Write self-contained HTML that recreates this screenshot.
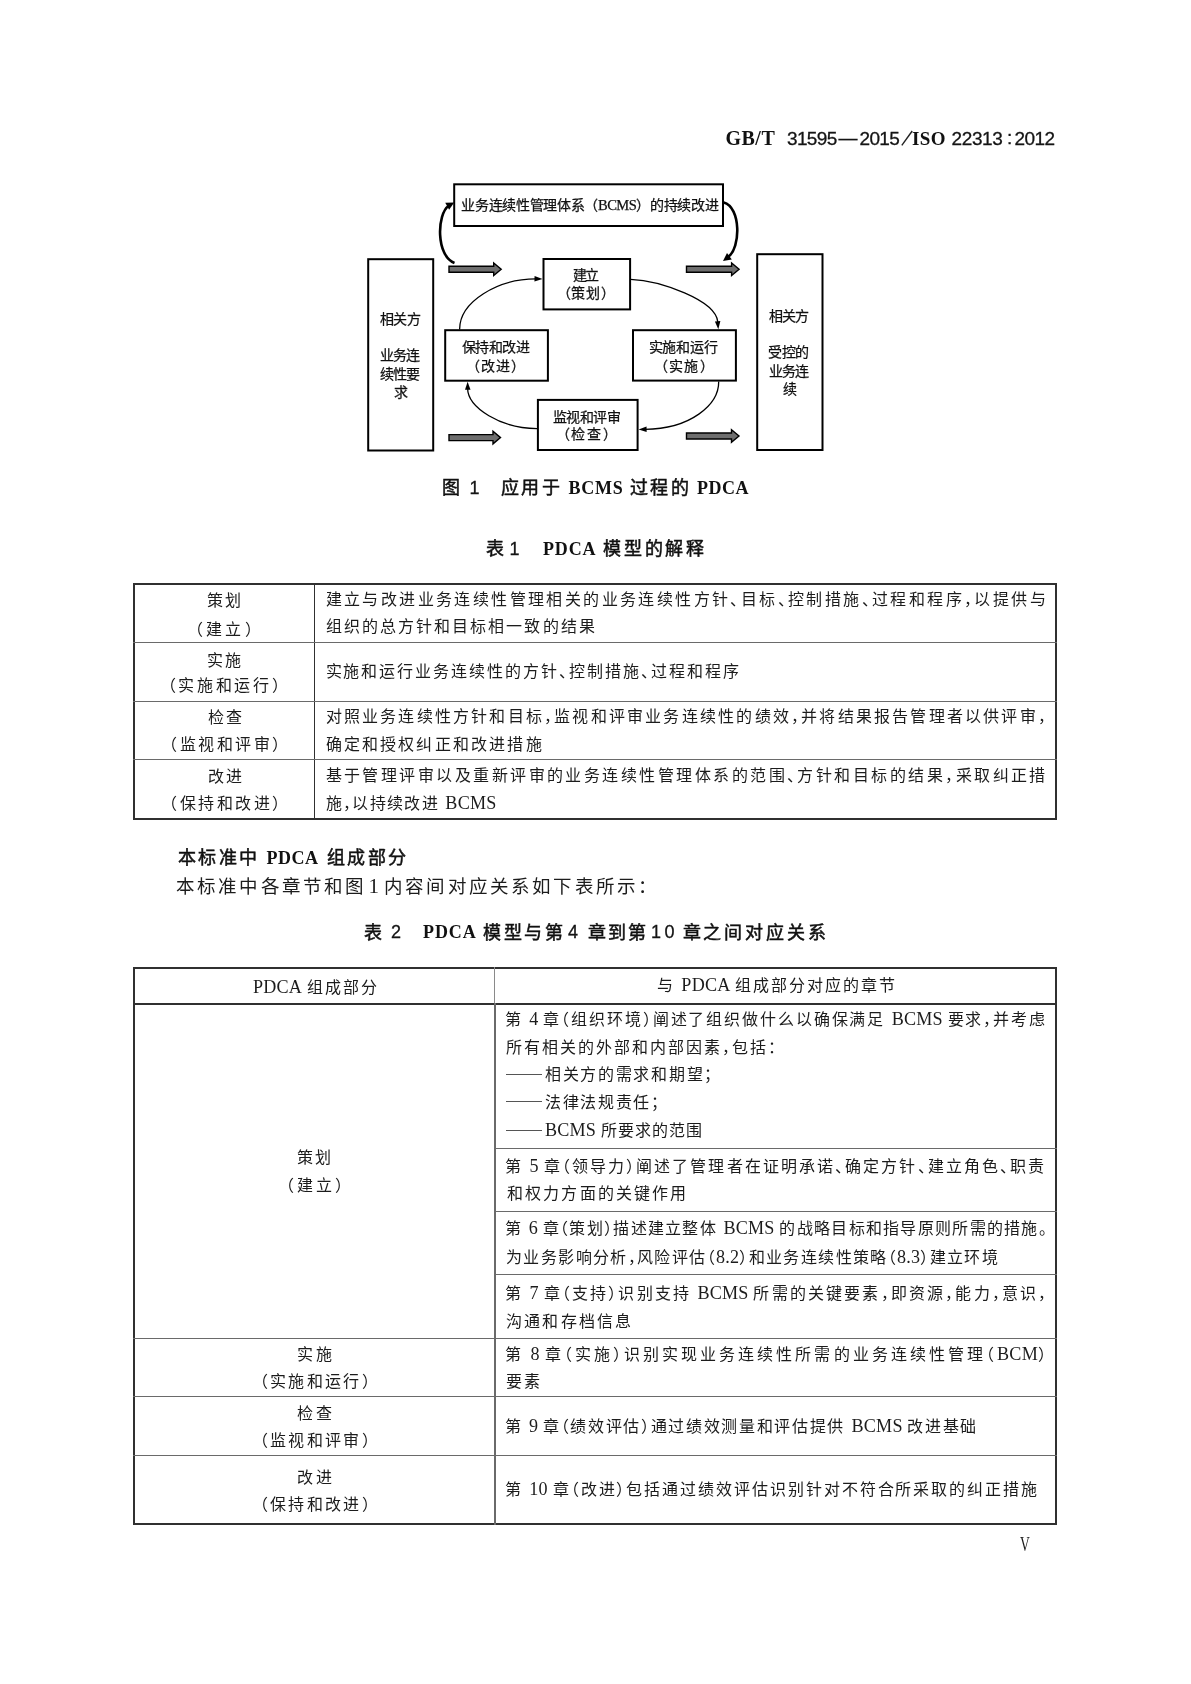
<!DOCTYPE html><html lang="zh-CN"><head><meta charset="utf-8"><style>html,body{margin:0;padding:0;background:#fff;}#pg{position:relative;width:1191px;height:1684px;overflow:hidden;background:#fff;}.t{position:absolute;white-space:nowrap;line-height:20px;}#pg{filter:grayscale(1);}</style></head><body><div id="pg">
<svg style="position:absolute;left:0;top:0" width="1191" height="160"><line x1="901.8" y1="145.3" x2="912.2" y2="131" stroke="#222" stroke-width="1.4"/></svg>
<svg style="position:absolute;left:0;top:0" width="1191" height="470" viewBox="0 0 1191 470"><rect x="454.20" y="184.30" width="268.80" height="41.70" fill="none" stroke="#000" stroke-width="2.0"/><rect x="543.50" y="259.00" width="86.60" height="50.40" fill="none" stroke="#000" stroke-width="2.0"/><rect x="445.20" y="330.20" width="102.70" height="50.50" fill="none" stroke="#000" stroke-width="2.0"/><rect x="633.00" y="330.20" width="102.90" height="50.40" fill="none" stroke="#000" stroke-width="2.0"/><rect x="537.90" y="399.90" width="99.70" height="50.10" fill="none" stroke="#000" stroke-width="2.0"/><rect x="368.20" y="259.20" width="65.00" height="191.30" fill="none" stroke="#000" stroke-width="2.0"/><rect x="757.20" y="254.20" width="65.30" height="195.80" fill="none" stroke="#000" stroke-width="2.0"/><path d="M449.0,266.3 L493.7,266.3 L493.7,263.0 L501.2,269.3 L493.7,275.6 L493.7,272.3 L449.0,272.3 z" fill="#6e6e6e" stroke="#000" stroke-width="1.4" stroke-linejoin="miter"/><path d="M686.5,266.3 L731.6,266.3 L731.6,263.0 L739.1,269.3 L731.6,275.6 L731.6,272.3 L686.5,272.3 z" fill="#6e6e6e" stroke="#000" stroke-width="1.4" stroke-linejoin="miter"/><path d="M449.0,434.6 L493.0,434.6 L493.0,431.3 L500.5,437.6 L493.0,443.9 L493.0,440.6 L449.0,440.6 z" fill="#6e6e6e" stroke="#000" stroke-width="1.4" stroke-linejoin="miter"/><path d="M686.5,433.0 L731.5,433.0 L731.5,429.7 L739.0,436.0 L731.5,442.3 L731.5,439.0 L686.5,439.0 z" fill="#6e6e6e" stroke="#000" stroke-width="1.4" stroke-linejoin="miter"/><path d="M459.6,329.4 C459.6,301.5 497.7,278.9 536,278.9" fill="none" stroke="#000" stroke-width="1.3"/><path d="M542.50,279.00 L534.45,281.59 L534.56,276.09 z" fill="#000"/><path d="M630.5,279.3 C660,280.5 716,300 717.8,322" fill="none" stroke="#000" stroke-width="1.3"/><path d="M718.30,329.20 L714.92,321.44 L720.40,321.01 z" fill="#000"/><path d="M718.7,381.5 C719,405 690,429 645,429.3" fill="none" stroke="#000" stroke-width="1.3"/><path d="M638.60,429.40 L646.54,426.49 L646.65,431.99 z" fill="#000"/><path d="M537,428.6 C501.2,428.6 467.6,407.8 467.6,388" fill="none" stroke="#000" stroke-width="1.3"/><path d="M467.60,381.70 L470.51,389.64 L465.01,389.75 z" fill="#000"/><path d="M454.5,263 C436,256 436.5,214 449,205.5" fill="none" stroke="#000" stroke-width="2.6"/><path d="M454.20,202.50 L449.12,209.86 L445.26,202.85 z" fill="#000"/><path d="M723.7,202.5 C741,207 741,248 728,257" fill="none" stroke="#000" stroke-width="2.6"/><path d="M723.00,261.00 L727.00,253.00 L731.80,259.40 z" fill="#000"/></svg>
<div style="position:absolute;left:133px;top:583px;width:924px;height:2px;background:#303030"></div>
<div style="position:absolute;left:133px;top:817.5px;width:924px;height:2px;background:#303030"></div>
<div style="position:absolute;left:133px;top:583px;width:2px;height:236.5px;background:#303030"></div>
<div style="position:absolute;left:1055px;top:583px;width:2px;height:236.5px;background:#303030"></div>
<div style="position:absolute;left:313.8px;top:583px;width:1.5px;height:236.5px;background:#303030"></div>
<div style="position:absolute;left:133px;top:641.8px;width:924px;height:1.2px;background:#6a6a6a"></div>
<div style="position:absolute;left:133px;top:700.8px;width:924px;height:1.2px;background:#6a6a6a"></div>
<div style="position:absolute;left:133px;top:759px;width:924px;height:1.2px;background:#6a6a6a"></div>
<div style="position:absolute;left:133px;top:967.3px;width:924px;height:2px;background:#303030"></div>
<div style="position:absolute;left:133px;top:1523.1px;width:924px;height:1.8px;background:#303030"></div>
<div style="position:absolute;left:133px;top:967.3px;width:2px;height:557.5px;background:#303030"></div>
<div style="position:absolute;left:1055px;top:967.3px;width:2px;height:557.5px;background:#303030"></div>
<div style="position:absolute;left:133px;top:1003px;width:924px;height:2px;background:#303030"></div>
<div style="position:absolute;left:494.2px;top:967.3px;width:1.3px;height:35.700000000000045px;background:#8a8a8a"></div>
<div style="position:absolute;left:494.2px;top:1003px;width:1.5px;height:521.8px;background:#6a6a6a"></div>
<div style="position:absolute;left:494.2px;top:1148px;width:562.8px;height:1.2px;background:#6a6a6a"></div>
<div style="position:absolute;left:494.2px;top:1211px;width:562.8px;height:1.2px;background:#6a6a6a"></div>
<div style="position:absolute;left:494.2px;top:1274.3px;width:562.8px;height:1.2px;background:#6a6a6a"></div>
<div style="position:absolute;left:133px;top:1337.8px;width:924px;height:1.2px;background:#6a6a6a"></div>
<div style="position:absolute;left:133px;top:1396px;width:924px;height:1.2px;background:#6a6a6a"></div>
<div style="position:absolute;left:133px;top:1455px;width:924px;height:1.2px;background:#6a6a6a"></div>
<div class="t" style="left:725.50px;top:128.00px;font-size:20px;letter-spacing:0.480px;font-family:'Liberation Serif', serif;font-weight:bold;color:#111;">GB/T</div>
<div class="t" style="left:787.00px;top:129.00px;font-size:19px;letter-spacing:-0.630px;font-family:'Liberation Sans', sans-serif;color:#141414;-webkit-text-stroke:0.3px #141414;">31595</div>
<div class="t" style="left:838.50px;top:128.20px;font-size:19px;letter-spacing:0.000px;font-family:'Liberation Sans', sans-serif;color:#141414;-webkit-text-stroke:0.3px #141414;">—</div>
<div class="t" style="left:859.50px;top:129.00px;font-size:19px;letter-spacing:-0.660px;font-family:'Liberation Sans', sans-serif;color:#141414;-webkit-text-stroke:0.3px #141414;">2015</div>
<div class="t" style="left:912.00px;top:129.00px;font-size:19px;letter-spacing:0.360px;font-family:'Liberation Serif', serif;font-weight:bold;color:#111;">ISO</div>
<div class="t" style="left:951.50px;top:129.00px;font-size:19px;letter-spacing:-0.360px;font-family:'Liberation Sans', sans-serif;color:#141414;-webkit-text-stroke:0.3px #141414;">22313</div>
<div class="t" style="left:1007.00px;top:128.20px;font-size:19px;letter-spacing:0.000px;font-family:'Liberation Sans', sans-serif;color:#141414;-webkit-text-stroke:0.3px #141414;">:</div>
<div class="t" style="left:1014.50px;top:129.00px;font-size:19px;letter-spacing:-0.540px;font-family:'Liberation Sans', sans-serif;color:#141414;-webkit-text-stroke:0.3px #141414;">2012</div>
<div class="t" style="left:461.30px;top:195.00px;font-size:14px;letter-spacing:-0.320px;font-family:'Liberation Serif', serif;color:#111;-webkit-text-stroke:0.25px #111;">业务连续性管理体系（<span style="font-size:14.56px;letter-spacing:-0.6px">BCMS</span>）的持续改进</div>
<div class="t" style="left:573.00px;top:266.00px;font-size:14px;letter-spacing:-1.700px;font-family:'Liberation Serif', serif;color:#111;-webkit-text-stroke:0.25px #111;">建立</div>
<div class="t" style="left:563.50px;top:284.00px;font-size:14px;letter-spacing:0.820px;font-family:'Liberation Serif', serif;color:#111;-webkit-text-stroke:0.25px #111;"><span style="margin-left:-7.00px">（</span>策划<span style="letter-spacing:-6.18px">）</span></div>
<div class="t" style="left:462.00px;top:337.50px;font-size:14px;letter-spacing:-0.530px;font-family:'Liberation Serif', serif;color:#111;-webkit-text-stroke:0.25px #111;">保持和改进</div>
<div class="t" style="left:472.50px;top:357.00px;font-size:14px;letter-spacing:1.240px;font-family:'Liberation Serif', serif;color:#111;-webkit-text-stroke:0.25px #111;"><span style="margin-left:-7.00px">（</span>改进<span style="letter-spacing:-5.76px">）</span></div>
<div class="t" style="left:648.50px;top:337.50px;font-size:14px;letter-spacing:-0.080px;font-family:'Liberation Serif', serif;color:#111;-webkit-text-stroke:0.25px #111;">实施和运行</div>
<div class="t" style="left:661.00px;top:357.00px;font-size:14px;letter-spacing:1.240px;font-family:'Liberation Serif', serif;color:#111;-webkit-text-stroke:0.25px #111;"><span style="margin-left:-7.00px">（</span>实施<span style="letter-spacing:-5.76px">）</span></div>
<div class="t" style="left:553.00px;top:407.50px;font-size:14px;letter-spacing:-0.530px;font-family:'Liberation Serif', serif;color:#111;-webkit-text-stroke:0.25px #111;">监视和评审</div>
<div class="t" style="left:562.50px;top:425.00px;font-size:14px;letter-spacing:1.960px;font-family:'Liberation Serif', serif;color:#111;-webkit-text-stroke:0.25px #111;"><span style="margin-left:-7.00px">（</span>检查<span style="letter-spacing:-5.04px">）</span></div>
<div class="t" style="left:379.50px;top:309.50px;font-size:14px;letter-spacing:-0.350px;font-family:'Liberation Serif', serif;color:#111;-webkit-text-stroke:0.25px #111;">相关方</div>
<div class="t" style="left:379.50px;top:346.00px;font-size:14px;letter-spacing:-0.800px;font-family:'Liberation Serif', serif;color:#111;-webkit-text-stroke:0.25px #111;">业务连</div>
<div class="t" style="left:379.50px;top:364.50px;font-size:14px;letter-spacing:-0.800px;font-family:'Liberation Serif', serif;color:#111;-webkit-text-stroke:0.25px #111;">续性要</div>
<div class="t" style="left:393.50px;top:382.50px;font-size:14px;letter-spacing:1.000px;font-family:'Liberation Serif', serif;color:#111;-webkit-text-stroke:0.25px #111;">求</div>
<div class="t" style="left:769.00px;top:307.00px;font-size:14px;letter-spacing:-0.800px;font-family:'Liberation Serif', serif;color:#111;-webkit-text-stroke:0.25px #111;">相关方</div>
<div class="t" style="left:768.00px;top:343.00px;font-size:14px;letter-spacing:-0.350px;font-family:'Liberation Serif', serif;color:#111;-webkit-text-stroke:0.25px #111;">受控的</div>
<div class="t" style="left:769.00px;top:362.00px;font-size:14px;letter-spacing:-1.250px;font-family:'Liberation Serif', serif;color:#111;-webkit-text-stroke:0.25px #111;">业务连</div>
<div class="t" style="left:783.00px;top:380.00px;font-size:14px;letter-spacing:1.000px;font-family:'Liberation Serif', serif;color:#111;-webkit-text-stroke:0.25px #111;">续</div>
<div class="t" style="left:442.00px;top:478.00px;font-size:18px;letter-spacing:5.000px;font-family:'Liberation Sans', sans-serif;font-weight:normal;color:#111;-webkit-text-stroke:0.5px #111;">图</div>
<div class="t" style="left:469.50px;top:477.50px;font-size:18px;letter-spacing:0.000px;font-family:'Liberation Sans', sans-serif;color:#141414;-webkit-text-stroke:0.3px #141414;">1</div>
<div class="t" style="left:501.00px;top:478.00px;font-size:18px;letter-spacing:2.480px;font-family:'Liberation Sans', sans-serif;font-weight:normal;color:#111;-webkit-text-stroke:0.5px #111;">应用于</div>
<div class="t" style="left:568.50px;top:477.50px;font-size:18px;letter-spacing:0.780px;font-family:'Liberation Serif', serif;font-weight:bold;color:#111;">BCMS</div>
<div class="t" style="left:630.00px;top:478.00px;font-size:18px;letter-spacing:2.480px;font-family:'Liberation Sans', sans-serif;font-weight:normal;color:#111;-webkit-text-stroke:0.5px #111;">过程的</div>
<div class="t" style="left:697.00px;top:477.50px;font-size:18px;letter-spacing:0.540px;font-family:'Liberation Serif', serif;font-weight:bold;color:#111;">PDCA</div>
<div class="t" style="left:485.50px;top:539.00px;font-size:18px;letter-spacing:5.000px;font-family:'Liberation Sans', sans-serif;font-weight:normal;color:#111;-webkit-text-stroke:0.5px #111;">表</div>
<div class="t" style="left:509.50px;top:538.50px;font-size:18px;letter-spacing:0.000px;font-family:'Liberation Sans', sans-serif;color:#141414;-webkit-text-stroke:0.3px #141414;">1</div>
<div class="t" style="left:543.00px;top:538.50px;font-size:18px;letter-spacing:0.840px;font-family:'Liberation Serif', serif;font-weight:bold;color:#111;">PDCA</div>
<div class="t" style="left:603.00px;top:539.00px;font-size:18px;letter-spacing:2.795px;font-family:'Liberation Sans', sans-serif;font-weight:normal;color:#111;-webkit-text-stroke:0.5px #111;">模型的解释</div>
<div class="t" style="left:177.50px;top:848.00px;font-size:18px;letter-spacing:2.540px;font-family:'Liberation Sans', sans-serif;font-weight:normal;color:#111;-webkit-text-stroke:0.5px #111;">本标准中</div>
<div class="t" style="left:266.50px;top:847.50px;font-size:18px;letter-spacing:0.480px;font-family:'Liberation Serif', serif;font-weight:bold;color:#111;">PDCA</div>
<div class="t" style="left:326.50px;top:848.00px;font-size:18px;letter-spacing:2.540px;font-family:'Liberation Sans', sans-serif;font-weight:normal;color:#111;-webkit-text-stroke:0.5px #111;">组成部分</div>
<div class="t" style="left:364.00px;top:923.00px;font-size:18px;letter-spacing:5.000px;font-family:'Liberation Sans', sans-serif;font-weight:normal;color:#111;-webkit-text-stroke:0.5px #111;">表</div>
<div class="t" style="left:391.00px;top:922.00px;font-size:18px;letter-spacing:0.000px;font-family:'Liberation Sans', sans-serif;color:#141414;-webkit-text-stroke:0.3px #141414;">2</div>
<div class="t" style="left:423.00px;top:922.00px;font-size:18px;letter-spacing:0.900px;font-family:'Liberation Serif', serif;font-weight:bold;color:#111;">PDCA</div>
<div class="t" style="left:483.00px;top:923.00px;font-size:18px;letter-spacing:2.600px;font-family:'Liberation Sans', sans-serif;font-weight:normal;color:#111;-webkit-text-stroke:0.5px #111;">模型与第</div>
<div class="t" style="left:568.00px;top:922.00px;font-size:18px;letter-spacing:0.000px;font-family:'Liberation Sans', sans-serif;color:#141414;-webkit-text-stroke:0.3px #141414;">4</div>
<div class="t" style="left:587.50px;top:923.00px;font-size:18px;letter-spacing:2.300px;font-family:'Liberation Sans', sans-serif;font-weight:normal;color:#111;-webkit-text-stroke:0.5px #111;">章到第</div>
<div class="t" style="left:651.00px;top:922.00px;font-size:18px;letter-spacing:3.420px;font-family:'Liberation Sans', sans-serif;color:#141414;-webkit-text-stroke:0.3px #141414;">10</div>
<div class="t" style="left:682.50px;top:923.00px;font-size:18px;letter-spacing:2.870px;font-family:'Liberation Sans', sans-serif;font-weight:normal;color:#111;-webkit-text-stroke:0.5px #111;">章之间对应关系</div>
<div class="t" style="left:207.00px;top:591.00px;font-size:16px;letter-spacing:1.920px;font-family:'Liberation Serif', serif;color:#1c1c1c;">策划</div>
<div class="t" style="left:195.00px;top:619.50px;font-size:16px;letter-spacing:3.240px;font-family:'Liberation Serif', serif;color:#1c1c1c;"><span style="margin-left:-8.00px">（</span>建立<span style="letter-spacing:-4.76px">）</span></div>
<div class="t" style="left:207.00px;top:651.00px;font-size:16px;letter-spacing:1.920px;font-family:'Liberation Serif', serif;color:#1c1c1c;">实施</div>
<div class="t" style="left:167.50px;top:676.00px;font-size:16px;letter-spacing:2.700px;font-family:'Liberation Serif', serif;color:#1c1c1c;"><span style="margin-left:-8.00px">（</span>实施和运行<span style="letter-spacing:-5.30px">）</span></div>
<div class="t" style="left:207.50px;top:707.50px;font-size:16px;letter-spacing:2.640px;font-family:'Liberation Serif', serif;color:#1c1c1c;">检查</div>
<div class="t" style="left:169.00px;top:735.00px;font-size:16px;letter-spacing:2.520px;font-family:'Liberation Serif', serif;color:#1c1c1c;"><span style="margin-left:-8.00px">（</span>监视和评审<span style="letter-spacing:-5.48px">）</span></div>
<div class="t" style="left:207.50px;top:766.50px;font-size:16px;letter-spacing:2.640px;font-family:'Liberation Serif', serif;color:#1c1c1c;">改进</div>
<div class="t" style="left:169.00px;top:793.50px;font-size:16px;letter-spacing:2.520px;font-family:'Liberation Serif', serif;color:#1c1c1c;"><span style="margin-left:-8.00px">（</span>保持和改进<span style="letter-spacing:-5.48px">）</span></div>
<div class="t" style="left:325.50px;top:590.00px;font-size:16px;letter-spacing:2.402px;font-family:'Liberation Serif', serif;color:#1c1c1c;">建立与改进业务连续性管理相关的业务连续性方针<span style="letter-spacing:-5.60px">、</span>目标<span style="letter-spacing:-5.60px">、</span>控制措施<span style="letter-spacing:-5.60px">、</span>过程和程序<span style="letter-spacing:-5.60px">，</span>以提供与</div>
<div class="t" style="left:325.50px;top:617.00px;font-size:16px;letter-spacing:2.087px;font-family:'Liberation Serif', serif;color:#1c1c1c;">组织的总方针和目标相一致的结果</div>
<div class="t" style="left:325.50px;top:662.00px;font-size:16px;letter-spacing:1.983px;font-family:'Liberation Serif', serif;color:#1c1c1c;">实施和运行业务连续性的方针<span style="letter-spacing:-6.02px">、</span>控制措施<span style="letter-spacing:-6.02px">、</span>过程和程序</div>
<div class="t" style="left:325.50px;top:706.50px;font-size:16px;letter-spacing:2.208px;font-family:'Liberation Serif', serif;color:#1c1c1c;">对照业务连续性方针和目标<span style="letter-spacing:-5.79px">，</span>监视和评审业务连续性的绩效<span style="letter-spacing:-5.79px">，</span>并将结果报告管理者以供评审<span style="letter-spacing:-5.79px">，</span></div>
<div class="t" style="left:325.50px;top:735.00px;font-size:16px;letter-spacing:2.198px;font-family:'Liberation Serif', serif;color:#1c1c1c;">确定和授权纠正和改进措施</div>
<div class="t" style="left:325.50px;top:765.50px;font-size:16px;letter-spacing:2.460px;font-family:'Liberation Serif', serif;color:#1c1c1c;">基于管理评审以及重新评审的业务连续性管理体系的范围<span style="letter-spacing:-5.54px">、</span>方针和目标的结果<span style="letter-spacing:-5.54px">，</span>采取纠正措</div>
<div class="t" style="left:325.50px;top:792.50px;font-size:16px;letter-spacing:1.350px;font-family:'Liberation Serif', serif;color:#1c1c1c;">施<span style="letter-spacing:-6.65px">，</span>以持续改进<span style="display:inline-block;width:6.40px"></span><span style="font-size:18.13px;letter-spacing:0.2px">BCMS</span></div>
<div class="t" style="left:176.00px;top:876.00px;font-size:18.5px;letter-spacing:2.160px;font-family:'Liberation Serif', serif;color:#1c1c1c;">本标准中各章节和图<span style="display:inline-block;width:2.00px"></span><span style="font-size:20.96px;letter-spacing:0.2px">1</span><span style="display:inline-block;width:5.00px"></span>内容间对应关系如下表所示<span style="letter-spacing:-7.09px">：</span></div>
<div class="t" style="left:253.00px;top:976.50px;font-size:16px;letter-spacing:2.100px;font-family:'Liberation Serif', serif;color:#1c1c1c;"><span style="font-size:18.13px;letter-spacing:0.2px">PDCA</span><span style="display:inline-block;width:4.80px"></span>组成部分</div>
<div class="t" style="left:657.00px;top:975.00px;font-size:16px;letter-spacing:1.960px;font-family:'Liberation Serif', serif;color:#1c1c1c;">与<span style="display:inline-block;width:6.40px"></span><span style="font-size:18.13px;letter-spacing:0.2px">PDCA</span><span style="display:inline-block;width:4.80px"></span>组成部分对应的章节</div>
<div class="t" style="left:297.00px;top:1148.00px;font-size:16px;letter-spacing:2.280px;font-family:'Liberation Serif', serif;color:#1c1c1c;">策划</div>
<div class="t" style="left:286.00px;top:1175.50px;font-size:16px;letter-spacing:2.880px;font-family:'Liberation Serif', serif;color:#1c1c1c;"><span style="margin-left:-8.00px">（</span>建立<span style="letter-spacing:-5.12px">）</span></div>
<div class="t" style="left:296.50px;top:1344.50px;font-size:16px;letter-spacing:3.720px;font-family:'Liberation Serif', serif;color:#1c1c1c;">实施</div>
<div class="t" style="left:259.50px;top:1372.00px;font-size:16px;letter-spacing:2.340px;font-family:'Liberation Serif', serif;color:#1c1c1c;"><span style="margin-left:-8.00px">（</span>实施和运行<span style="letter-spacing:-5.66px">）</span></div>
<div class="t" style="left:296.50px;top:1404.00px;font-size:16px;letter-spacing:3.720px;font-family:'Liberation Serif', serif;color:#1c1c1c;">检查</div>
<div class="t" style="left:259.50px;top:1431.00px;font-size:16px;letter-spacing:2.340px;font-family:'Liberation Serif', serif;color:#1c1c1c;"><span style="margin-left:-8.00px">（</span>监视和评审<span style="letter-spacing:-5.66px">）</span></div>
<div class="t" style="left:296.50px;top:1468.00px;font-size:16px;letter-spacing:3.720px;font-family:'Liberation Serif', serif;color:#1c1c1c;">改进</div>
<div class="t" style="left:259.50px;top:1495.00px;font-size:16px;letter-spacing:2.340px;font-family:'Liberation Serif', serif;color:#1c1c1c;"><span style="margin-left:-8.00px">（</span>保持和改进<span style="letter-spacing:-5.66px">）</span></div>
<div class="t" style="left:505.00px;top:1009.00px;font-size:16px;letter-spacing:1.892px;font-family:'Liberation Serif', serif;color:#1c1c1c;">第<span style="display:inline-block;width:6.40px"></span><span style="font-size:18.13px;letter-spacing:0.2px">4</span><span style="display:inline-block;width:4.80px"></span>章<span style="margin-left:-8.00px">（</span>组织环境<span style="letter-spacing:-6.11px">）</span>阐述了组织做什么以确保满足<span style="display:inline-block;width:6.40px"></span><span style="font-size:18.13px;letter-spacing:0.2px">BCMS</span><span style="display:inline-block;width:4.80px"></span>要求<span style="letter-spacing:-6.11px">，</span>并考虑</div>
<div class="t" style="left:506.00px;top:1037.50px;font-size:16px;letter-spacing:1.968px;font-family:'Liberation Serif', serif;color:#1c1c1c;">所有相关的外部和内部因素<span style="letter-spacing:-6.03px">，</span>包括<span style="letter-spacing:-6.03px">：</span></div>
<div class="t" style="left:506.00px;top:1065.00px;font-size:16px;letter-spacing:1.700px;font-family:'Liberation Serif', serif;color:#1c1c1c;"><span style="display:inline-block;width:36.3px;height:1px;background:#555;vertical-align:5.3px;margin-right:2.7px"></span>相关方的需求和期望<span style="letter-spacing:-6.30px">；</span></div>
<div class="t" style="left:506.00px;top:1092.50px;font-size:16px;letter-spacing:1.680px;font-family:'Liberation Serif', serif;color:#1c1c1c;"><span style="display:inline-block;width:36.3px;height:1px;background:#555;vertical-align:5.3px;margin-right:2.7px"></span>法律法规责任<span style="letter-spacing:-6.32px">；</span></div>
<div class="t" style="left:506.00px;top:1120.00px;font-size:16px;letter-spacing:1.020px;font-family:'Liberation Serif', serif;color:#1c1c1c;"><span style="display:inline-block;width:36.3px;height:1px;background:#555;vertical-align:5.3px;margin-right:2.7px"></span><span style="font-size:18.13px;letter-spacing:0.2px">BCMS</span><span style="display:inline-block;width:4.80px"></span>所要求的范围</div>
<div class="t" style="left:505.00px;top:1156.00px;font-size:16px;letter-spacing:2.088px;font-family:'Liberation Serif', serif;color:#1c1c1c;">第<span style="display:inline-block;width:6.40px"></span><span style="font-size:18.13px;letter-spacing:0.2px">5</span><span style="display:inline-block;width:4.80px"></span>章<span style="margin-left:-8.00px">（</span>领导力<span style="letter-spacing:-5.91px">）</span>阐述了管理者在证明承诺<span style="letter-spacing:-5.91px">、</span>确定方针<span style="letter-spacing:-5.91px">、</span>建立角色<span style="letter-spacing:-5.91px">、</span>职责</div>
<div class="t" style="left:507.00px;top:1184.00px;font-size:16px;letter-spacing:2.140px;font-family:'Liberation Serif', serif;color:#1c1c1c;">和权力方面的关键作用</div>
<div class="t" style="left:505.00px;top:1217.50px;font-size:16px;letter-spacing:1.293px;font-family:'Liberation Serif', serif;color:#1c1c1c;">第<span style="display:inline-block;width:6.40px"></span><span style="font-size:18.13px;letter-spacing:0.2px">6</span><span style="display:inline-block;width:4.80px"></span>章<span style="margin-left:-8.00px">（</span>策划<span style="letter-spacing:-6.71px">）</span>描述建立整体<span style="display:inline-block;width:6.40px"></span><span style="font-size:18.13px;letter-spacing:0.2px">BCMS</span><span style="display:inline-block;width:4.80px"></span>的战略目标和指导原则所需的措施<span style="letter-spacing:-6.71px">。</span></div>
<div class="t" style="left:506.00px;top:1247.00px;font-size:16px;letter-spacing:1.380px;font-family:'Liberation Serif', serif;color:#1c1c1c;">为业务影响分析<span style="letter-spacing:-6.62px">，</span>风险评估<span style="margin-left:-8.00px">（</span><span style="font-size:18.13px;letter-spacing:0.2px">8.2</span><span style="letter-spacing:-6.62px">）</span>和业务连续性策略<span style="margin-left:-8.00px">（</span><span style="font-size:18.13px;letter-spacing:0.2px">8.3</span><span style="letter-spacing:-6.62px">）</span>建立环境</div>
<div class="t" style="left:505.00px;top:1282.50px;font-size:16px;letter-spacing:2.160px;font-family:'Liberation Serif', serif;color:#1c1c1c;">第<span style="display:inline-block;width:6.40px"></span><span style="font-size:18.13px;letter-spacing:0.2px">7</span><span style="display:inline-block;width:4.80px"></span>章<span style="margin-left:-8.00px">（</span>支持<span style="letter-spacing:-5.84px">）</span>识别支持<span style="display:inline-block;width:6.40px"></span><span style="font-size:18.13px;letter-spacing:0.2px">BCMS</span><span style="display:inline-block;width:4.80px"></span>所需的关键要素<span style="letter-spacing:-5.84px">，</span>即资源<span style="letter-spacing:-5.84px">，</span>能力<span style="letter-spacing:-5.84px">，</span>意识<span style="letter-spacing:-5.84px">，</span></div>
<div class="t" style="left:506.00px;top:1311.50px;font-size:16px;letter-spacing:2.220px;font-family:'Liberation Serif', serif;color:#1c1c1c;">沟通和存档信息</div>
<div class="t" style="left:505.00px;top:1344.00px;font-size:16px;letter-spacing:3.062px;font-family:'Liberation Serif', serif;color:#1c1c1c;">第<span style="display:inline-block;width:6.40px"></span><span style="font-size:18.13px;letter-spacing:0.2px">8</span><span style="display:inline-block;width:4.80px"></span>章<span style="margin-left:-8.00px">（</span>实施<span style="letter-spacing:-4.94px">）</span>识别实现业务连续性所需的业务连续性管理<span style="margin-left:-8.00px">（</span><span style="font-size:18.13px;letter-spacing:0.2px">BCM</span><span style="letter-spacing:-4.94px">）</span></div>
<div class="t" style="left:506.00px;top:1372.00px;font-size:16px;letter-spacing:2.100px;font-family:'Liberation Serif', serif;color:#1c1c1c;">要素</div>
<div class="t" style="left:505.00px;top:1416.00px;font-size:16px;letter-spacing:1.666px;font-family:'Liberation Serif', serif;color:#1c1c1c;">第<span style="display:inline-block;width:6.40px"></span><span style="font-size:18.13px;letter-spacing:0.2px">9</span><span style="display:inline-block;width:4.80px"></span>章<span style="margin-left:-8.00px">（</span>绩效评估<span style="letter-spacing:-6.33px">）</span>通过绩效测量和评估提供<span style="display:inline-block;width:6.40px"></span><span style="font-size:18.13px;letter-spacing:0.2px">BCMS</span><span style="display:inline-block;width:4.80px"></span>改进基础</div>
<div class="t" style="left:505.00px;top:1479.00px;font-size:16px;letter-spacing:1.939px;font-family:'Liberation Serif', serif;color:#1c1c1c;">第<span style="display:inline-block;width:6.40px"></span><span style="font-size:18.13px;letter-spacing:0.2px">10</span><span style="display:inline-block;width:4.80px"></span>章<span style="margin-left:-8.00px">（</span>改进<span style="letter-spacing:-6.06px">）</span>包括通过绩效评估识别针对不符合所采取的纠正措施</div>
<div style="position:absolute;left:1020px;top:1533.5px;font-family:'Liberation Serif', serif;font-size:20px;line-height:20px;color:#1a1a1a;transform:scaleX(0.68);transform-origin:0 0">V</div>
</div></body></html>
